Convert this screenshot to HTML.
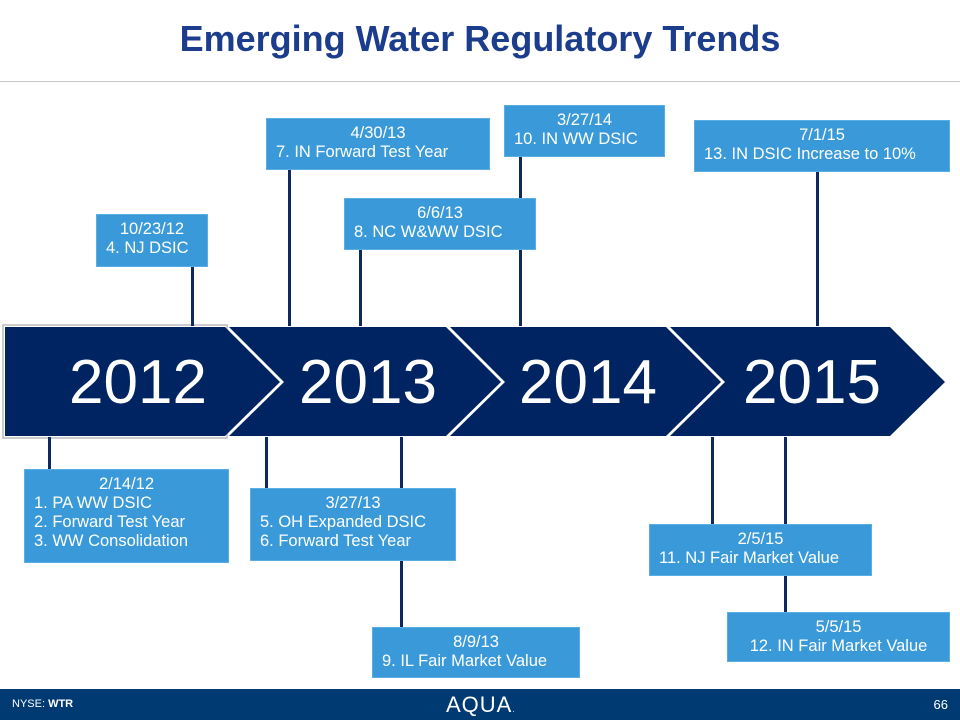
<!DOCTYPE html>
<html><head><meta charset="utf-8"><style>
body{margin:0;width:960px;height:720px;position:relative;background:#fff;font-family:"Liberation Sans",sans-serif;overflow:hidden}
.box{position:absolute;background:#3a9ad9;color:#fff;font-size:16.5px;line-height:19px;box-sizing:border-box;padding:5px 9px;border:1px solid #5aaee3}
.box .d{text-align:center}
.ln{position:absolute;width:3px;background:#0d2a5e}
</style></head><body>
<div style="position:absolute;left:0;top:18px;width:960px;text-align:center;font-weight:bold;font-size:36px;color:#1c3c8c">Emerging Water Regulatory Trends</div>
<div style="position:absolute;left:0;top:81px;width:960px;height:1px;background:#c8c8c8"></div>

<svg style="position:absolute;left:0;top:0" width="960" height="720">
<rect x="3" y="325" width="224" height="113" fill="none" stroke="#bbb" stroke-width="1.5"/>
<polygon points="5,327 225,327 280,382 225,436 5,436" fill="#002462"/>
<polygon points="229,327 446,327 501,382 446,436 229,436 284,382" fill="#002462"/>
<polygon points="450,327 666,327 721,382 666,436 450,436 505,382" fill="#002462"/>
<polygon points="670,327 890,327 945,382 890,436 670,436 725,382" fill="#002462"/>
<g font-family="Liberation Sans, sans-serif" font-size="62" fill="#fff" text-anchor="middle">
<text x="138" y="403">2012</text><text x="368" y="403">2013</text><text x="588" y="403">2014</text><text x="812" y="403">2015</text>
</g>
</svg>

<div class="ln" style="left:191px;top:267px;height:59px"></div>
<div class="ln" style="left:288px;top:170px;height:156px"></div>
<div class="ln" style="left:359px;top:250px;height:76px"></div>
<div class="ln" style="left:519px;top:157px;height:169px"></div>
<div class="ln" style="left:816px;top:172px;height:154px"></div>
<div class="ln" style="left:48px;top:437px;height:32px"></div>
<div class="ln" style="left:265px;top:437px;height:51px"></div>
<div class="ln" style="left:400px;top:437px;height:190px"></div>
<div class="ln" style="left:711px;top:437px;height:87px"></div>
<div class="ln" style="left:784px;top:437px;height:175px"></div>

<div class="box" style="left:96px;top:214px;width:112px;height:53px"><div class="d">10/23/12</div>4. NJ DSIC</div>
<div class="box" style="left:266px;top:118px;width:224px;height:52px"><div class="d">4/30/13</div>7. IN Forward Test Year</div>
<div class="box" style="left:344px;top:198px;width:192px;height:52px"><div class="d">6/6/13</div>8. NC W&amp;WW DSIC</div>
<div class="box" style="left:504px;top:105px;width:161px;height:52px"><div class="d">3/27/14</div>10. IN WW DSIC</div>
<div class="box" style="left:694px;top:120px;width:256px;height:52px"><div class="d">7/1/15</div>13. IN DSIC Increase to 10%</div>
<div class="box" style="left:24px;top:469px;width:205px;height:94px"><div class="d">2/14/12</div>1. PA WW DSIC<br>2. Forward Test Year<br>3. WW Consolidation</div>
<div class="box" style="left:250px;top:488px;width:206px;height:73px"><div class="d">3/27/13</div>5. OH Expanded DSIC<br>6. Forward Test Year</div>
<div class="box" style="left:372px;top:627px;width:208px;height:51px"><div class="d">8/9/13</div>9. IL Fair Market Value</div>
<div class="box" style="left:649px;top:524px;width:223px;height:52px"><div class="d">2/5/15</div>11. NJ Fair Market Value</div>
<div class="box" style="left:727px;top:612px;width:223px;height:50px;text-align:center"><div class="d">5/5/15</div>12. IN Fair Market Value</div>

<div style="position:absolute;left:0;top:689px;width:960px;height:31px;background:#003a73;color:#fff">
<div style="position:absolute;left:12px;top:9px;font-size:11px">NYSE: <b>WTR</b></div>
<div style="position:absolute;left:446px;top:3px;font-size:22px;letter-spacing:1px">AQUA<span style="font-size:8px">.</span></div>
<div style="position:absolute;right:12px;top:8px;font-size:13px">66</div>
</div>
</body></html>
